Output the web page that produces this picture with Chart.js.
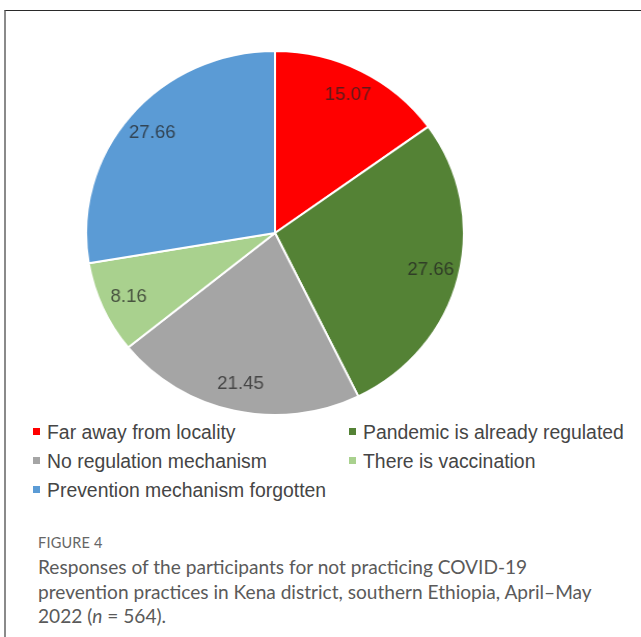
<!DOCTYPE html>
<html>
<head>
<meta charset="utf-8">
<script src="https://cdn.jsdelivr.net/npm/chart.js@4"></script>
<style>
  html, body { margin: 0; padding: 0; background: #fff; }
  body { width: 641px; height: 637px; position: relative; overflow: hidden; }
  .frame { position: absolute; left: 4px; top: 10px; width: 700px; height: 700px;
           border-top: 1px solid #2a2a2a; border-left: 2px solid #8a8a8a; }
  .pie-wrap { position: absolute; left: 92px; top: 50px; width: 366px; height: 366px;
              transform: scaleX(1.038); transform-origin: 50% 50%; }
  .legend { position: absolute; left: 0; top: 0; font-family: "Liberation Sans", Arial, sans-serif;
            font-size: 19.4px; color: #454545; }
  .legend .item { position: absolute; white-space: nowrap; line-height: 22px; }
  .legend .sw { display: inline-block; width: 7px; height: 7px; margin-right: 7px;
                vertical-align: middle; position: relative; top: -2px; }
  .caption { position: absolute; left: 38px; top: 533px; font-family: Lato, "Open Sans", sans-serif;
             color: #5a5a5a; }
  .caption .fig { font-size: 14.5px; letter-spacing: 0.2px; color: #666; line-height: 20px; }
  .caption .txt { font-size: 19.1px; line-height: 24.5px; font-weight: 400; margin-top: 2px; }
</style>
</head>
<body>
<div class="frame"></div>
<div class="pie-wrap"><canvas id="pie" width="366" height="366"></canvas></div>
<div class="legend" id="legend"></div>
<div class="caption">
  <div class="fig">FIGURE 4</div>
  <div class="txt">Responses of the participants for not practicing COVID-19<br>prevention practices in Kena district, southern Ethiopia, April&#8211;May<br>2022 (<i>n</i> = 564).</div>
</div>
<script>
// Reasons for not practicing prevention, share of respondents (%)
const categories = [
  'Far away from locality',
  'Pandemic is already regulated',
  'No regulation mechanism',
  'There is vaccination',
  'Prevention mechanism forgotten'
];
const shares = [15.07, 27.66, 21.45, 8.16, 27.66];
const sliceColors = ['#ff0000', '#548235', '#a5a5a5', '#a9d18e', '#5b9bd5'];

// Legend grid: two columns, filled row by row
const legendCols = [33, 349];
const legendRows = [432, 461, 490];

// Percent values written inside each slice, near the rim
const valueLabels = {
  id: 'valueLabels',
  afterDatasetsDraw(chart) {
    const ctx = chart.ctx;
    const meta = chart.getDatasetMeta(0);
    ctx.save();
    ctx.font = '18px "Liberation Sans", Arial, sans-serif';
    ctx.textAlign = 'center';
    ctx.textBaseline = 'middle';
    ctx.fillStyle = 'rgba(35,35,35,0.72)';
    meta.data.forEach((arc, i) => {
      const p = arc.getProps(['x', 'y', 'startAngle', 'endAngle', 'outerRadius'], true);
      const mid = (p.startAngle + p.endAngle) / 2;
      const r = p.outerRadius * 0.85;
      ctx.fillText(shares[i].toFixed(2), p.x + Math.cos(mid) * r, p.y + Math.sin(mid) * r);
    });
    ctx.restore();
  }
};

new Chart(document.getElementById('pie'), {
  type: 'pie',
  data: {
    labels: categories,
    datasets: [{
      data: shares,
      backgroundColor: sliceColors,
      borderColor: '#ffffff',
      borderWidth: 2
    }]
  },
  options: {
    responsive: false,
    animation: false,
    layout: { padding: 0 },
    plugins: {
      legend: { display: false },
      tooltip: { enabled: false }
    }
  },
  plugins: [valueLabels]
});

// HTML legend built from the same categories and colours
const legend = document.getElementById('legend');
categories.forEach((name, i) => {
  const item = document.createElement('div');
  item.className = 'item';
  item.style.left = legendCols[i % 2] + 'px';
  item.style.top = (legendRows[Math.floor(i / 2)] - 11) + 'px';
  const sw = document.createElement('span');
  sw.className = 'sw';
  sw.style.background = sliceColors[i];
  item.appendChild(sw);
  item.appendChild(document.createTextNode(name));
  legend.appendChild(item);
});
</script>
</body>
</html>
